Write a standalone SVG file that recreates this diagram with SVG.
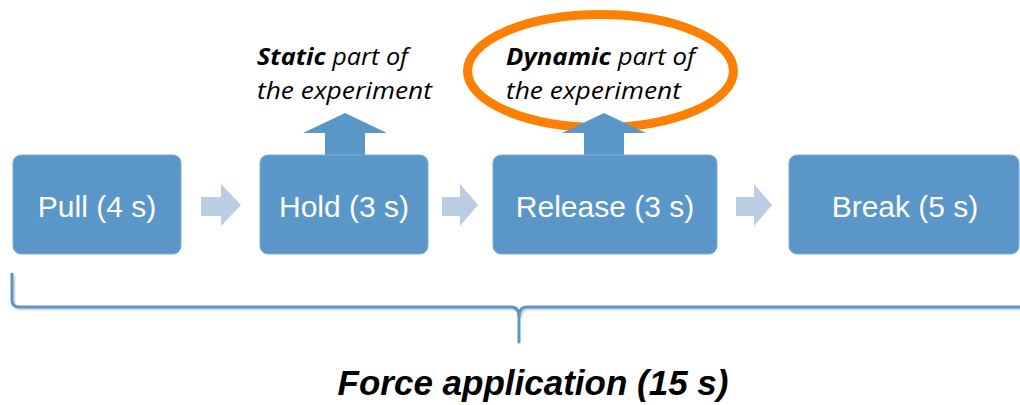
<svg xmlns="http://www.w3.org/2000/svg" width="1020" height="405" viewBox="0 0 1020 405">
  <style>
    .box { fill: #5B96C8; stroke: #7FAED6; stroke-width: 1; }
    .lbl { font-family: "Liberation Sans", Arial, sans-serif; font-size: 30px; fill: #FFFFFF; text-anchor: middle; }
    .step { fill: #BBCDE3; }
    .up { fill: #5B96C8; }
    .note { font-family: "Open Sans", "Liberation Sans", sans-serif; font-size: 23px; font-style: italic; fill: #000000; }
    .note .b { font-weight: bold; }
    .brace { fill: none; stroke: #5B96C8; stroke-width: 3; stroke-linecap: round; stroke-linejoin: round; }
    .brace-shadow { fill: none; stroke: #9A9A9A; stroke-opacity: 0.35; stroke-width: 3; }
    .total { font-family: "Liberation Sans", Arial, sans-serif; font-size: 35px; font-weight: bold; font-style: italic; fill: #000000; text-anchor: middle; }
  </style>

  <!-- highlight around the dynamic note -->
  <ellipse id="highlight" cx="600.5" cy="71" rx="133" ry="56.5" fill="none" stroke="#FF8000" stroke-width="9"/>

  <!-- connectors: step arrows and upward callout arrows -->
  <g id="connectors">
    <polygon class="step" points="201,197 221,197 221,184 241,205 221,226 221,216 201,216"/>
    <polygon class="step" points="442,197 460,197 460,184 478,205 460,226 460,216 442,216"/>
    <polygon class="step" points="736,197 754,197 754,184 772,205 754,226 754,216 736,216"/>
    <polygon class="up" points="325,156 325,133 303,133 345,113 387,133 365,133 365,156"/>
    <polygon class="up" points="584,156 584,133 562,133 604,113 646,133 624,133 624,156"/>
  </g>

  <g id="pull">
    <rect class="box" x="13" y="155" width="168" height="99" rx="8"/>
    <text class="lbl" x="97" y="217">Pull (4 s)</text>
  </g>

  <g id="hold">
    <rect class="box" x="260" y="155" width="168" height="99" rx="8"/>
    <text class="lbl" x="344" y="217">Hold (3 s)</text>
  </g>

  <g id="release">
    <rect class="box" x="493" y="155" width="224" height="99" rx="8"/>
    <text class="lbl" x="605" y="217">Release (3 s)</text>
  </g>

  <g id="break">
    <rect class="box" x="789" y="155" width="230" height="99" rx="8"/>
    <text class="lbl" x="905" y="217">Break (5 s)</text>
  </g>

  <g id="static-note">
    <text class="note" x="257" y="65" textLength="151" lengthAdjust="spacingAndGlyphs"><tspan class="b">Static</tspan> part of</text>
    <text class="note" x="257" y="99" textLength="175" lengthAdjust="spacingAndGlyphs">the experiment</text>
  </g>

  <g id="dynamic-note">
    <text class="note" x="506" y="65" textLength="189" lengthAdjust="spacingAndGlyphs"><tspan class="b">Dynamic</tspan> part of</text>
    <text class="note" x="506" y="99" textLength="175" lengthAdjust="spacingAndGlyphs">the experiment</text>
  </g>

  <!-- brace spanning all phases -->
  <g id="brace">
    <path class="brace-shadow" d="M14,276 L14,302 Q14,309 21,309 L513,309 Q521,309 521,318 M521,318 Q521,309 529,309 L1022,309"/>
    <path class="brace" d="M12,274 L12,300 Q12,307 19,307 L511,307 Q519,307 519,317 L519,342 M519,317 Q519,307 527,307 L1022,307"/>
  </g>

  <g id="total">
    <text class="total" x="533" y="395">Force application (15 s)</text>
  </g>
</svg>
